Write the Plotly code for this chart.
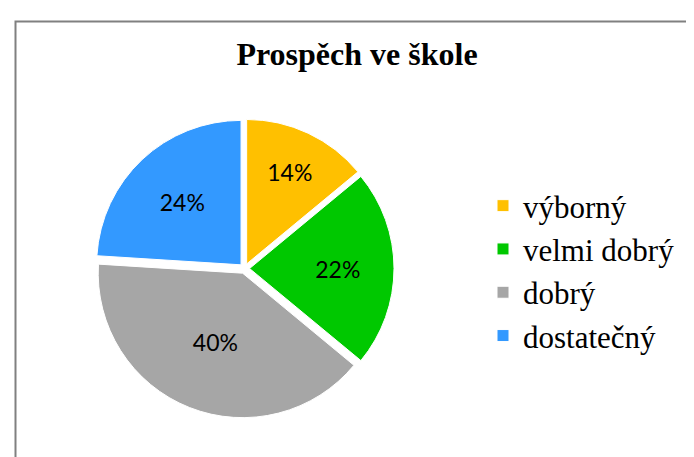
import plotly.graph_objects as go

categories = ["výborný", "velmi dobrý", "dobrý", "dostatečný"]
values = [14, 22, 40, 24]
colors = ["#FFC000", "#00C800", "#A6A6A6", "#3399FF"]
title_text = "Prospěch ve škole"

W, H = 694, 457
SERIF = "Liberation Serif"

fig = go.Figure(
    go.Pie(
        labels=categories,
        values=values,
        sort=False,
        direction="clockwise",
        rotation=0,
        pull=0.035,
        marker=dict(colors=colors, line=dict(color="white", width=1)),
        textinfo="percent",
        texttemplate="%{percent:.0%}",
        textposition="inside",
        insidetextorientation="horizontal",
        textfont=dict(family="Lato", size=23, color="black"),
        domain=dict(x=[87 / W, 386 / W], y=[1 - 412 / H, 1 - 109 / H]),
        hoverinfo="label+percent",
    )
)

fig.update_layout(
    width=W,
    height=H,
    margin=dict(l=0, r=0, t=0, b=0),
    paper_bgcolor="white",
    plot_bgcolor="white",
    font=dict(family=SERIF, size=30, color="black"),
    title=dict(
        text="<b>" + title_text + "</b>",
        x=349 / W,
        xanchor="center",
        y=1 - 46 / H,
        yanchor="middle",
        font=dict(family=SERIF, size=32, color="black"),
    ),
    legend=dict(
        x=475 / W,
        xanchor="left",
        y=1 - 263 / H,
        yanchor="middle",
        font=dict(family=SERIF, size=31, color="black"),
        bgcolor="rgba(0,0,0,0)",
    ),
    showlegend=True,
    shapes=[
        dict(
            type="rect",
            xref="paper",
            yref="paper",
            x0=7.5 / W,
            x1=1.05,
            y0=-0.05,
            y1=1 - 13.5 / H,
            line=dict(color="#808080", width=2),
            fillcolor="rgba(0,0,0,0)",
            layer="below",
        )
    ],
)

fig.write_html("out.html")
